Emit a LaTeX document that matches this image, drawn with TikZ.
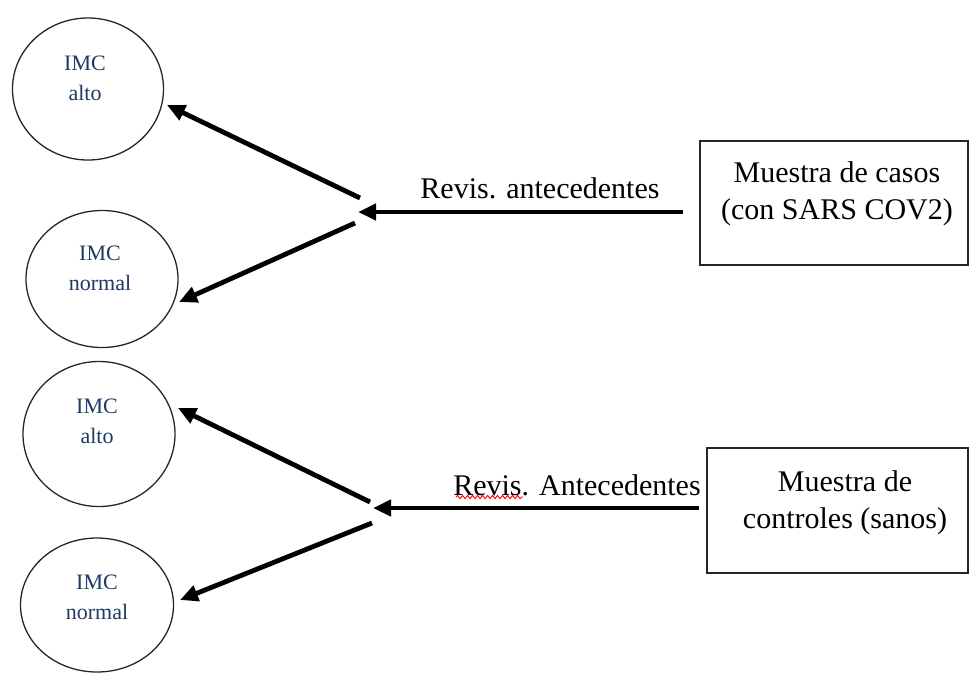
\documentclass[tikz,border=0pt]{standalone}
\usepackage{fontspec}
\setmainfont{Liberation Serif}
\usetikzlibrary{shapes.geometric,arrows.meta,decorations.pathmorphing}
\definecolor{imcblue}{RGB}{31,56,100}
\tikzset{
  imcoval/.style={ellipse, draw=black!85, line width=1.3pt, inner sep=0pt},
  imctext/.style={align=center, text=imcblue, font=\fontsize{22}{30}\selectfont, inner sep=0pt},
  samplebox/.style={rectangle, draw=black!85, line width=1.8pt, inner sep=0pt},
  boxtext/.style={align=center, font=\fontsize{30}{37}\selectfont, inner sep=0pt},
  lbltext/.style={font=\fontsize{30}{37}\selectfont, inner sep=0pt},
  arr/.style={line width=4.8pt, -{Triangle[length=18pt,width=16pt]}}
}
\begin{document}
\begin{tikzpicture}[x=1pt,y=-1pt]
\useasboundingbox (0,0) rectangle (971,673);
% ovals
\node[imcoval, minimum width=151pt, minimum height=142pt] (c1) at (88,89) {};
\node[imcoval, minimum width=152pt, minimum height=137pt] (c2) at (102,279) {};
\node[imcoval, minimum width=152pt, minimum height=145pt] (c3) at (99,434) {};
\node[imcoval, minimum width=153pt, minimum height=134pt] (c4) at (97,605) {};
\node[imctext] (c1t) at (85,78) {IMC\\alto};
\node[imctext] (c2t) at (100,268) {IMC\\normal};
\node[imctext] (c3t) at (97,421) {IMC\\alto};
\node[imctext] (c4t) at (97,597) {IMC\\normal};
% boxes
\node[samplebox, minimum width=268pt, minimum height=124pt] (b1) at (834,203) {};
\node[boxtext] (b1t) at (837,194) {Muestra de casos\\(con SARS COV2)};
\node[samplebox, minimum width=261pt, minimum height=125pt] (b2) at (837.5,510.5) {};
\node[boxtext] (b2t) at (845,503) {Muestra de\\controles (sanos)};
% labels
\node[lbltext] (l1) at (540,188) {Revis. antecedentes};
\node[lbltext] (l2) at (577,485) {Revis. Antecedentes};
\draw[red, line width=0.9pt, decorate, decoration={snake, amplitude=1.6pt, segment length=5pt}] (456,497) -- (523,497);
% top group
\coordinate (h1s) at (683,212);
\coordinate (h1e) at (358,212);
\coordinate (u1s) at (360,198);
\coordinate (u1e) at (167,105);
\coordinate (d1s) at (355,223);
\coordinate (d1e) at (179,302);
\draw[arr] (h1s) -- (h1e);
\draw[arr] (u1s) -- (u1e);
\draw[arr] (d1s) -- (d1e);
% bottom group
\coordinate (h2s) at (699,508);
\coordinate (h2e) at (373,508);
\coordinate (u2s) at (370,502);
\coordinate (u2e) at (178,408);
\coordinate (d2s) at (372,523);
\coordinate (d2e) at (180,600);
\draw[arr] (h2s) -- (h2e);
\draw[arr] (u2s) -- (u2e);
\draw[arr] (d2s) -- (d2e);
\end{tikzpicture}
\end{document}
